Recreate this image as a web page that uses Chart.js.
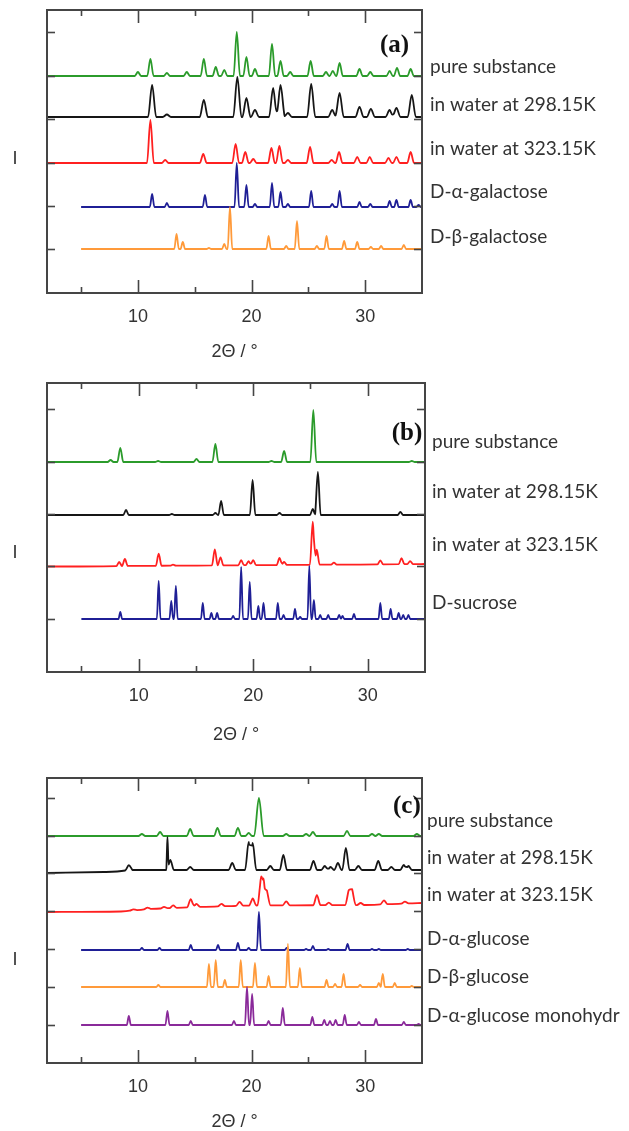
<!DOCTYPE html>
<html><head><meta charset="utf-8">
<script src="https://cdn.jsdelivr.net/npm/chart.js@4.4.1/dist/chart.umd.min.js"></script>
<style>
html,body{margin:0;padding:0;background:#fff;}
#wrap{position:relative;width:629px;height:1131px;background:#fff;overflow:hidden;}
canvas{position:absolute;left:0;}
</style></head>
<body><div id="wrap">
<canvas id="pa" width="629" height="370" style="top:0px"></canvas>
<canvas id="pb" width="629" height="390" style="top:370px"></canvas>
<canvas id="pc" width="629" height="371" style="top:760px"></canvas>
</div>
<script>
// ---------- data (2Θ in degrees, peak height in arbitrary intensity units) ----------
const xTickValues = [5, 10, 15, 20, 25, 30];

// panel (a) galactose
const aPure = [[10.0,4],[11.1,17],[12.55,3],[14.3,4],[15.8,17],[16.85,9],[17.6,6],[18.7,44],[19.55,19],[20.3,7],[21.8,32],[22.55,15],[23.4,4],[25.2,15],[26.55,4],[27.15,5],[27.75,13],[29.5,7],[30.45,4],[32.15,5],[32.8,8],[34.0,7]];
const aW298 = [[11.25,32],[12.55,2.5],[15.8,17],[18.75,40],[19.55,19],[20.3,7],[21.9,29],[22.55,32],[23.2,4],[25.25,33],[27.1,7],[27.75,24],[29.5,10],[30.5,8],[32.15,7],[32.75,9],[34.1,22]];
const aW323 = [[11.1,43],[12.4,3],[15.75,9],[18.6,19],[19.45,11],[20.15,4],[21.75,15],[22.45,17],[23.2,3],[25.15,16],[27.05,3],[27.7,11],[29.3,6],[30.4,6],[32.05,5],[32.75,6],[34.0,11]];
const aAlphaGal = [[11.25,13],[12.55,4],[15.9,12],[18.7,44],[19.55,22],[20.3,3],[21.8,24],[22.55,15],[23.2,3],[25.25,16],[27.1,3],[27.75,16],[29.5,5],[30.45,3],[32.15,6],[32.75,7],[34.0,7],[34.7,2]];
const aBetaGal = [[13.4,15],[13.95,7],[16.25,1],[17.6,5],[18.1,42],[21.5,13],[23.05,3],[24.0,28],[25.75,3],[26.6,13],[28.15,8],[29.3,7],[30.5,2],[31.4,3],[33.4,4]];

// panel (b) sucrose
const bPure = [[7.55,2],[8.4,14],[11.7,1],[15.05,3],[16.7,18],[21.6,1],[22.7,11],[25.25,52],[33.85,1]];
const bW298 = [[8.9,5],[12.9,1],[16.7,2],[17.2,14],[19.95,35],[22.3,2],[25.2,6],[25.65,43],[32.85,3]];
const bW323 = [[8.3,4],[8.8,7],[11.75,12],[13.0,1],[16.65,16],[17.15,8],[18.95,5],[19.6,4],[20.0,5],[22.3,7],[22.7,3],[25.2,43],[25.55,15],[27.05,2],[31.1,4],[32.95,6],[33.7,3]];
const bSucrose = [[8.4,7],[11.75,38],[12.85,18],[13.25,33],[15.6,16],[16.35,6],[16.85,6],[18.25,3],[18.95,52],[19.7,37],[20.45,13],[20.9,16],[22.15,16],[22.65,4],[23.65,10],[24.1,2],[24.9,53],[25.3,19],[25.85,4],[26.55,4],[27.5,4],[27.8,3],[28.8,5],[31.1,16],[32.0,10],[32.7,6],[33.1,4],[33.55,4]];

// panel (c) glucose
const cPure = [[10.35,2],[11.95,4],[14.6,7],[17.0,8],[18.8,8],[19.75,3],[20.65,38,0.42],[23.05,2],[24.8,2],[25.4,4],[28.4,5],[30.6,2],[31.2,2],[34.55,2]];
const cW298 = [[9.2,5],[12.6,33,0.1],[12.85,10],[14.6,3],[18.3,7],[19.75,28],[20.1,27],[21.65,4],[22.8,15],[25.45,9],[26.45,4],[26.95,3],[27.6,7],[28.3,22],[29.4,4],[31.15,9],[32.3,3],[33.4,5],[33.8,4]];
const cW323 = [[9.6,1],[10.85,1.5],[12.3,1.5],[13.1,2.5],[14.65,8],[15.15,3],[17.35,2.5],[18.95,4],[20.1,7],[20.85,29],[21.05,27],[21.35,15],[23.05,4],[25.75,10],[26.8,2.5],[28.55,15],[28.85,16],[29.6,2],[31.65,4],[33.5,2]];
const cAlphaGlu = [[10.35,2],[11.9,2],[14.65,5],[17.05,5],[18.8,7],[19.75,2],[20.65,38],[23.1,2],[24.8,1],[25.4,4],[26.75,1],[28.45,6],[30.6,1],[31.2,1],[33.75,1]];
const cBetaGlu = [[11.8,2],[16.25,23],[16.85,27],[17.65,7],[19.05,27],[20.3,24],[21.5,11],[23.2,43],[24.25,19],[26.6,7],[27.35,3],[28.1,13],[29.55,2],[31.2,4],[31.55,13],[32.6,4],[34.1,1]];
const cMono = [[9.2,9],[12.6,14],[14.65,4],[18.45,4],[19.6,38],[20.05,31],[21.5,4],[22.75,17],[25.35,8],[26.4,5],[26.9,4],[27.4,5],[28.2,10],[29.45,3],[30.95,6],[33.4,3],[34.7,1]];

// background levels (x, level)
const flatBase = [[2,0],[35,0]];
const bW323Base = [[2,-0.5],[35,2]];
const cW298Base = [[2,-3],[7,-2],[9.5,0],[35,0]];
const cW323Base = [[2,0],[8.5,0.5],[11,3],[15,5],[20,6.5],[30,7],[35,9]];

// labels
const labelsA = ['pure substance','in water at 298.15K','in water at 323.15K','D-α-galactose','D-β-galactose'];
const labelsB = ['pure substance','in water at 298.15K','in water at 323.15K','D-sucrose'];
const labelsC = ['pure substance','in water at 298.15K','in water at 323.15K','D-α-glucose','D-β-glucose','D-α-glucose monohydr'];
const xTitle = '2Θ / °';
const yTitle = 'I';

// ---------- styling / layout ----------
const COL = {green:'#2b9b2b', black:'#161616', red:'#ff2020', blue:'#1f1f96', orange:'#ff9a3a', purple:'#8a2a9a'};
const FRAME = '#454545';
const TXT = '#333333';

Chart.defaults.font.family = '"Liberation Sans", Arial, sans-serif';

function levelAt(knots, x) {
  for (let i = 0; i < knots.length - 1; i++) {
    const [x1, y1] = knots[i], [x2, y2] = knots[i + 1];
    if (x >= x1 && x <= x2) return y1 + (y2 - y1) * (x - x1) / (x2 - x1);
  }
  return knots[knots.length - 1][1];
}
// line through the read peak apexes, each peak dropping to the background at +-half width
function peakTrace(peaks, w, x0, knots) {
  const xs = new Set([x0, 35]);
  knots.forEach(k => { if (k[0] > x0) xs.add(k[0]); });
  peaks.forEach(p => { const hw = p[2] || w; [p[0] - hw, p[0], p[0] + hw].forEach(v => { if (v > x0 && v < 35) xs.add(+v.toFixed(4)); }); });
  return [...xs].sort((a, b) => a - b).map(x => {
    let top = 0;
    peaks.forEach(p => { const hw = p[2] || w; const d = Math.abs(x - p[0]); if (d < hw) top = Math.max(top, p[1] * (1 - d / hw)); });
    return {x, y: levelAt(knots, x) + top};
  });
}

const decor = {
  id: 'decor',
  afterDatasetsDraw(chart, args, o) {
    const {ctx, chartArea: ca, scales: {x, y}} = chart;
    ctx.save();
    ctx.strokeStyle = FRAME;
    ctx.lineWidth = 2;
    ctx.strokeRect(ca.left, ca.top, ca.right - ca.left, ca.bottom - ca.top);
    ctx.lineWidth = 1.6;
    const seg = (x1, y1, x2, y2) => { ctx.beginPath(); ctx.moveTo(x1, y1); ctx.lineTo(x2, y2); ctx.stroke(); };
    xTickValues.forEach(v => {
      const px = Math.round(x.getPixelForValue(v)) + 0.5;
      const L = v % 10 === 0 ? 13 : 6;
      seg(px, ca.bottom, px, ca.bottom - L);
      seg(px, ca.top, px, ca.top + L);
    });
    o.yTicks.forEach(v => {
      const py = Math.round(y.getPixelForValue(v)) + 0.5;
      seg(ca.left, py, ca.left + 8, py);
      seg(ca.right, py, ca.right - 8, py);
    });
    ctx.restore();
  },
  afterDraw(chart, args, o) {
    const {ctx, chartArea: ca, scales: {x, y}} = chart;
    ctx.save();
    ctx.fillStyle = TXT;
    ctx.textBaseline = 'middle';
    ctx.textAlign = 'left';
    ctx.font = '19px Lato, "Open Sans", sans-serif';
    o.labels.forEach((t, i) => ctx.fillText(t, ca.right + o.labelDx, y.getPixelForValue(o.labelY[i])));
    ctx.font = 'bold 25px "Liberation Serif", "Times New Roman", serif';
    ctx.fillStyle = '#111';
    ctx.fillText(o.tag, x.getPixelForValue(o.tagX), y.getPixelForValue(o.tagY));
    ctx.font = '18px "Liberation Sans", Arial, sans-serif';
    ctx.fillStyle = TXT;
    ctx.textAlign = 'center';
    ctx.fillText(yTitle, ca.left - 32, y.getPixelForValue(o.yTitleY));
    ctx.restore();
  }
};

function makePanel(id, p) {
  const datasets = p.series.map(s => ({
    data: peakTrace(s.peaks, s.w, s.x0, s.base).map(pt => ({x: pt.x, y: pt.y + s.offset})),
    borderColor: s.color, borderWidth: 1.8, pointRadius: 0, tension: 0.4, cubicInterpolationMode: 'monotone', fill: false
  }));
  const xH = p.titleY + 9 - p.bottom;
  new Chart(document.getElementById(id), {
    type: 'line',
    data: {datasets},
    plugins: [decor],
    options: {
      responsive: false, animation: false, devicePixelRatio: 1,
      layout: {padding: {left: 47, right: p.right, top: p.top, bottom: p.canvasH - p.bottom - xH}},
      plugins: {legend: {display: false}, tooltip: {enabled: false},
        decor: {yTicks: p.yTicks, labels: p.labels, labelY: p.labelY, labelDx: p.labelDx, tag: p.tag, tagX: p.tagX, tagY: p.tagY, yTitleY: p.yTitleY}},
      scales: {
        x: {
          type: 'linear', min: 2, max: 35,
          afterBuildTicks: s => { s.ticks = xTickValues.map(v => ({value: v})); },
          afterFit: s => { s.height = xH; },
          ticks: {callback: v => (v % 10 === 0 ? String(v) : ''), font: {size: 18}, color: TXT, padding: 13, maxRotation: 0, autoSkip: false},
          grid: {display: false, drawTicks: false},
          border: {display: false},
          title: {display: true, text: xTitle, font: {size: 18, lineHeight: 1}, color: TXT, padding: 0}
        },
        y: {type: 'linear', min: 0, max: p.bottom - p.top, display: false}
      }
    }
  });
}

makePanel('pa', {
  canvasH: 370, top: 10, bottom: 293, right: 207, titleY: 352,
  yTicks: [44, 87, 130, 174, 217, 261],
  series: [
    {peaks: aBetaGal, offset: 44, w: 0.2, x0: 5, base: flatBase, color: COL.orange},
    {peaks: aAlphaGal, offset: 86, w: 0.2, x0: 5, base: flatBase, color: COL.blue},
    {peaks: aW323, offset: 130, w: 0.3, x0: 2, base: flatBase, color: COL.red},
    {peaks: aW298, offset: 176, w: 0.36, x0: 2, base: flatBase, color: COL.black},
    {peaks: aPure, offset: 217, w: 0.28, x0: 2, base: flatBase, color: COL.green}
  ],
  labels: labelsA, labelY: [226, 188, 144, 101, 56], labelDx: 8,
  tag: '(a)', tagX: 31.3, tagY: 247, yTitleY: 134
});
makePanel('pb', {
  canvasH: 390, top: 13, bottom: 302, right: 204, titleY: 365,
  yTicks: [53, 106, 158, 210, 263],
  series: [
    {peaks: bSucrose, offset: 53, w: 0.16, x0: 5, base: flatBase, color: COL.blue},
    {peaks: bW323, offset: 106, w: 0.25, x0: 2, base: bW323Base, color: COL.red},
    {peaks: bW298, offset: 157, w: 0.24, x0: 2, base: flatBase, color: COL.black},
    {peaks: bPure, offset: 210, w: 0.26, x0: 2, base: flatBase, color: COL.green}
  ],
  labels: labelsB, labelY: [230, 180, 127, 69], labelDx: 7,
  tag: '(b)', tagX: 32.1, tagY: 238, yTitleY: 119
});
makePanel('pc', {
  canvasH: 371, top: 18, bottom: 303, right: 207, titleY: 362,
  yTicks: [38, 76, 114, 152, 190, 227, 265],
  series: [
    {peaks: cMono, offset: 38, w: 0.18, x0: 5, base: flatBase, color: COL.purple},
    {peaks: cBetaGlu, offset: 76, w: 0.18, x0: 5, base: flatBase, color: COL.orange},
    {peaks: cAlphaGlu, offset: 113, w: 0.18, x0: 5, base: flatBase, color: COL.blue},
    {peaks: cW323, offset: 151, w: 0.32, x0: 2, base: cW323Base, color: COL.red},
    {peaks: cW298, offset: 193, w: 0.32, x0: 2, base: cW298Base, color: COL.black},
    {peaks: cPure, offset: 227, w: 0.3, x0: 2, base: flatBase, color: COL.green}
  ],
  labels: labelsC, labelY: [242, 205, 168, 124, 86, 47], labelDx: 5,
  tag: '(c)', tagX: 32.45, tagY: 256, yTitleY: 103
});
</script>
</body></html>
